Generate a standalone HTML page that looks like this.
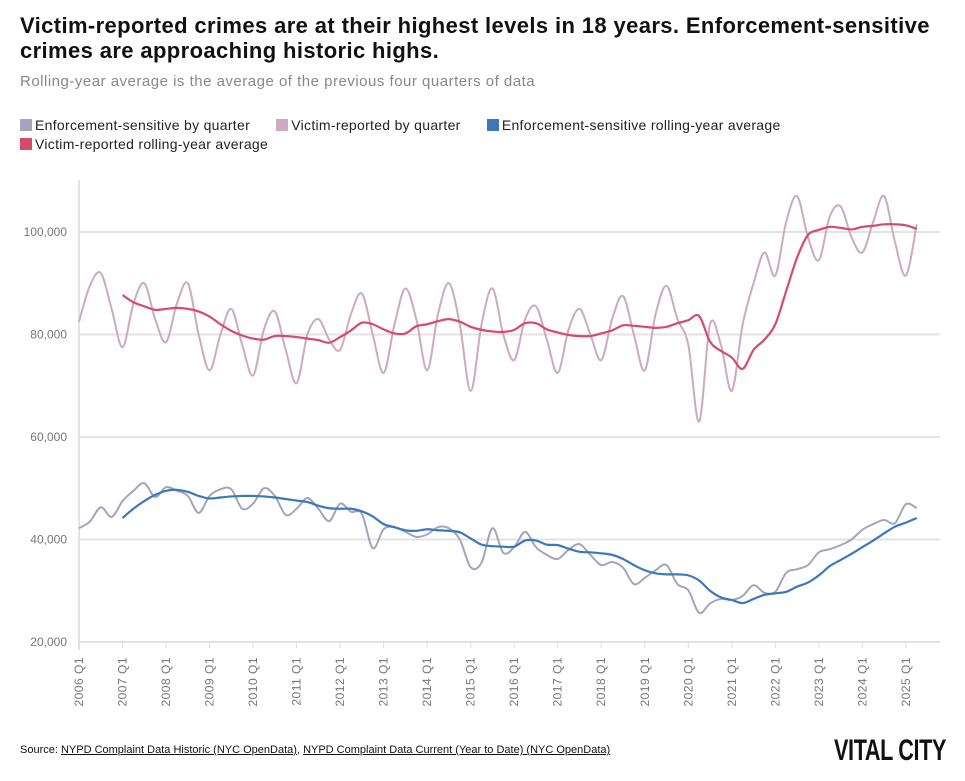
<!DOCTYPE html>
<html><head><meta charset="utf-8">
<style>
body{margin:0;background:#fff;font-family:"Liberation Sans",sans-serif;}
#wrap{position:relative;width:965px;height:781px;overflow:hidden;}
h1{position:absolute;left:20px;top:13px;margin:0;font-size:22px;line-height:25px;font-weight:bold;color:#111;width:940px;letter-spacing:0.38px;white-space:nowrap}
.sub{position:absolute;left:20px;top:73px;font-size:15px;color:#888;letter-spacing:0.5px}
.legend{position:absolute;left:20px;top:116px;font-size:14px;color:#222;width:900px;line-height:19px;letter-spacing:0.3px}
.li{display:inline-block;margin-right:22px}
.sw{display:inline-block;width:12px;height:12px;margin-right:3px;vertical-align:-1px}
.src{position:absolute;left:20px;top:744px;font-size:11px;color:#111;white-space:nowrap}
.src a{color:#111;text-decoration:underline}
.logo{position:absolute;left:834px;top:734px;font-size:30px;font-weight:bold;letter-spacing:-0.5px;transform:scaleX(0.72);transform-origin:left;color:#111;white-space:nowrap}
svg{position:absolute;left:0;top:0}
</style></head><body>
<div id="wrap">
<h1>Victim-reported crimes are at their highest levels in 18 years. Enforcement-sensitive<br>crimes are approaching historic highs.</h1>
<div class="sub">Rolling-year average is the average of the previous four quarters of data</div>
<div class="legend">
<span class="li"><span class="sw" style="background:#a6a4bd"></span>Enforcement-sensitive by quarter</span>
<span class="li"><span class="sw" style="background:#cdaabf"></span>Victim-reported by quarter</span>
<span class="li"><span class="sw" style="background:#3d78ba"></span>Enforcement-sensitive rolling-year average</span><br>
<span class="li"><span class="sw" style="background:#d74a6c"></span>Victim-reported rolling-year average</span>
</div>
<svg id="chart" width="965" height="781"></svg>
<div class="src">Source: <a>NYPD Complaint Data Historic (NYC OpenData)</a>, <a>NYPD Complaint Data Current (Year to Date) (NYC OpenData)</a></div>
<div class="logo">VITAL CITY</div>
</div>
<script>
const yTicks=[20000,40000,60000,80000,100000];
const years=[2006,2007,2008,2009,2010,2011,2012,2013,2014,2015,2016,2017,2018,2019,2020,2021,2022,2023,2024,2025];
const victimQuarter=[82.5,89.5,92,85,77.5,86,90,83,78.5,86,90,80,73,80,85,78,72,81,84.5,77,70.5,80,83,79,77,84,88,80,72.5,82,89,83,73,84,90,82,69,82,89,80,75,83,85.5,79,72.5,81,85,80,75,83,87.5,80,73,84,89.5,83,78,63,82,78,69,82,90,96,91.5,102,107,99,94.5,103,105,99,96,102,107,98,91.5,101.5];
const enforceQuarter=[42.2,43.5,46.3,44.4,47.5,49.5,51,48.3,50.2,49.5,48.5,45.2,48.5,49.8,49.8,46,47,50,48.5,44.8,46,48.1,46,43.6,47,45.4,45,38.3,42,42.4,41.5,40.5,41,42.4,42.2,40,34.6,35.5,42.2,37.4,38.5,41.5,38.5,37,36.2,38,39.1,37,35,35.6,34.5,31.3,32.5,34,35,31.3,30.1,25.7,27.5,28.4,28.2,29,31.1,29.6,29.8,33.5,34.2,35,37.5,38.1,38.9,40,41.9,43,43.8,43.2,46.9,46.1];
const victimRolling=[null,null,null,null,87.7,86.3,85.5,84.8,85,85.2,85,84.5,83.5,82,80.7,79.8,79.2,79,79.7,79.7,79.5,79.2,78.9,78.4,79.5,80.8,82.3,82,81,80.2,80.2,81.6,82,82.6,83,82.5,81.5,80.9,80.6,80.5,80.9,82.2,82.2,81,80.4,79.9,79.7,79.7,80.2,80.8,81.8,81.7,81.5,81.3,81.5,82.2,82.8,83.6,78.6,76.8,75.5,73.3,77,79,82,88.5,95,99.4,100.4,101,100.8,100.5,101,101.2,101.5,101.5,101.3,100.6];
const enforceRolling=[null,null,null,null,44.2,46,47.5,48.7,49.5,49.7,49.3,48.5,48,48.2,48.4,48.5,48.5,48.4,48.2,47.9,47.6,47.3,46.6,46.1,46,46,45.5,44.5,43,42.4,41.8,41.7,42,41.8,41.7,41.4,40.2,39,38.7,38.6,38.6,39.8,39.8,39,38.9,38.2,37.6,37.5,37.3,37,36.2,35,34,33.4,33.2,33.2,33,32,30,28.7,28.2,27.6,28.4,29.2,29.5,29.8,30.8,31.6,33,34.8,36,37.2,38.5,39.8,41.2,42.5,43.3,44.2];

const svg=document.getElementById('chart');
const NS='http://www.w3.org/2000/svg';
const X0=79,QW=10.88,XR=940;
function x(q){return X0+q*QW;}
function y(v){return 642-(v-20000)*410/80000;}
function mk(t,a){const e=document.createElementNS(NS,t);for(const k in a)e.setAttribute(k,a[k]);svg.appendChild(e);return e;}
yTicks.forEach(v=>{
 const g=mk('line',{x1:X0,x2:XR,y1:y(v),y2:y(v),stroke:'#e3e3e3','stroke-width':2});
 
 
 const t=mk('text',{x:67,y:y(v)+4,'text-anchor':'end','font-size':12,fill:'#777','font-family':'Liberation Sans, sans-serif'});
 t.textContent=v.toLocaleString('en-US');
 
 
});
const ax=mk('line',{x1:X0,x2:X0,y1:180,y2:650,stroke:'#e3e3e3','stroke-width':2});


years.forEach((yr,i)=>{
 const xx=x(i*4);
 const tk=mk('line',{x1:xx,x2:xx,y1:642,y2:648,stroke:'#ddd','stroke-width':1});
 
 
 const t=mk('text',{transform:`translate(${xx+4},${657}) rotate(-90)`,'text-anchor':'end','font-size':12,fill:'#777','font-family':'Liberation Sans, sans-serif','letter-spacing':'0.5'});
 t.textContent=yr+' Q1';
 
 
});
function path(arr,col,w,name){
 const pts=[];arr.forEach((v,i)=>{if(v!=null)pts.push([x(i),y(v*1000)]);});
 let d='M'+pts[0][0]+','+pts[0][1];
 for(let i=0;i<pts.length-1;i++){
  const p0=pts[Math.max(0,i-1)],p1=pts[i],p2=pts[i+1],p3=pts[Math.min(pts.length-1,i+2)];
  const c1=[p1[0]+(p2[0]-p0[0])/6,p1[1]+(p2[1]-p0[1])/6],c2=[p2[0]-(p3[0]-p1[0])/6,p2[1]-(p3[1]-p1[1])/6];
  d+=`C${c1[0]},${c1[1]} ${c2[0]},${c2[1]} ${p2[0]},${p2[1]}`;
 }
 const p=mk('path',{d:d,fill:'none',stroke:col,'stroke-width':w,'stroke-linejoin':'round'});
 
 
}
path(enforceQuarter,'#a6a4bd',2,'enforcement-quarter-line');
path(victimQuarter,'#cdaabf',2,'victim-quarter-line');
path(enforceRolling,'#3d78ba',2.2,'enforcement-rolling-line');
path(victimRolling,'#d74a6c',2.2,'victim-rolling-line');
</script>
</body></html>
